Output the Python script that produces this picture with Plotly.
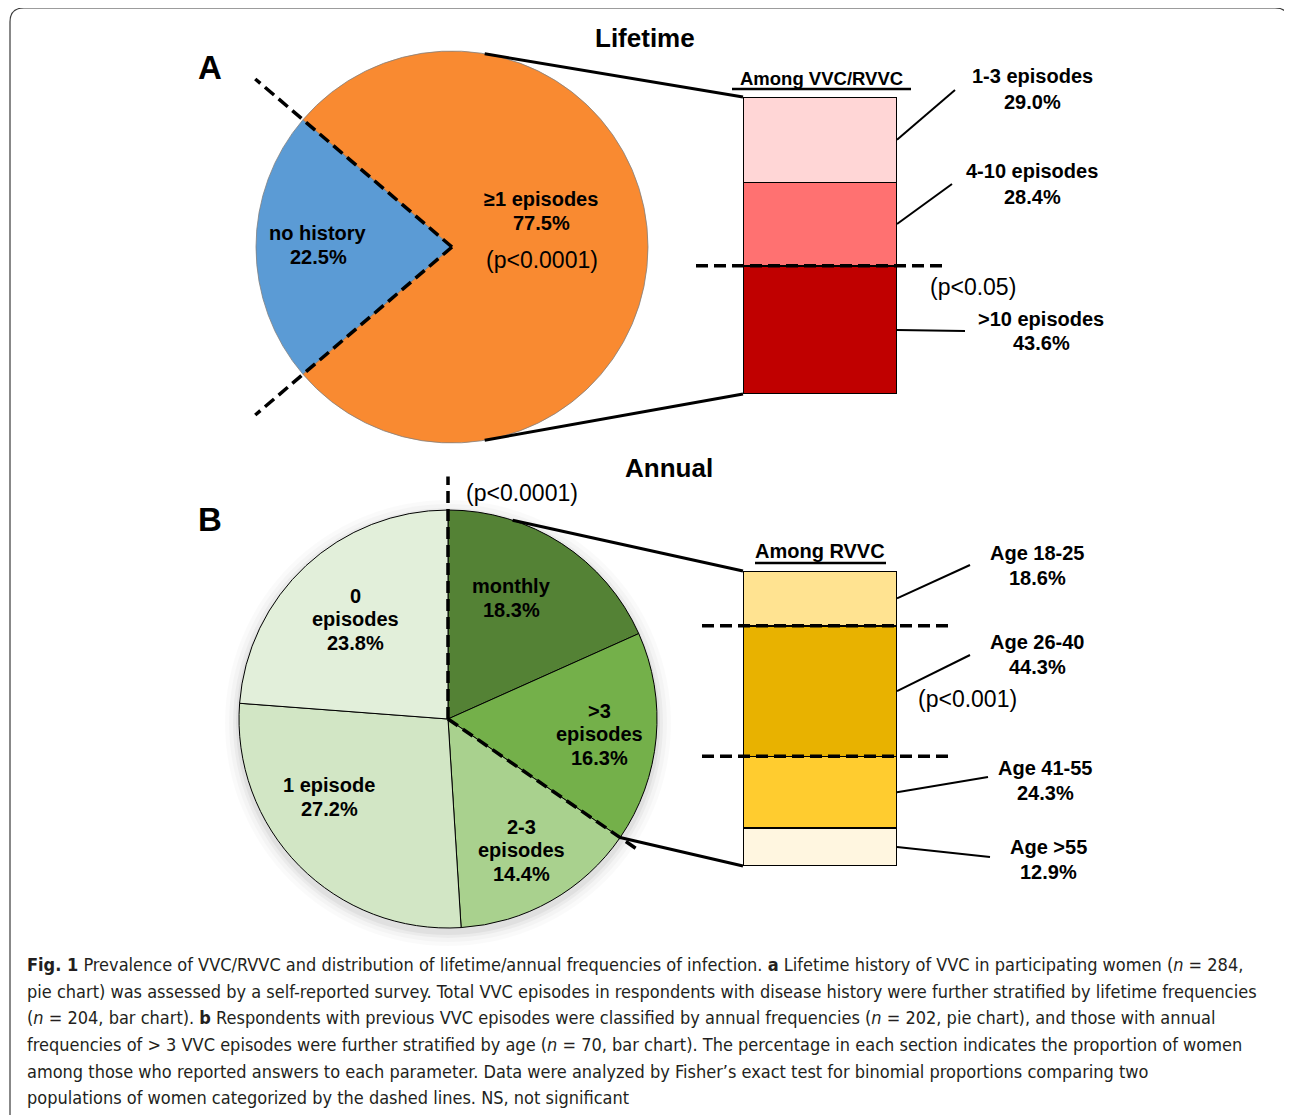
import math
import plotly.graph_objects as go

# browser body margin offsets the figure by 8px
OFF = 8
W, H = 1284, 1107

# ---------------- data ----------------
lifetime_labels = ["no history", "≥1 episodes"]
lifetime_values = [22.5, 77.5]
lifetime_colors = ["#5B9BD5", "#F98A31"]

lifetime_freq_labels = ["1-3 episodes", "4-10 episodes", ">10 episodes"]
lifetime_freq_values = [29.0, 28.4, 43.6]
lifetime_freq_colors = ["#FFD6D6", "#FF7171", "#C00000"]

annual_labels = ["monthly", ">3 episodes", "2-3 episodes", "1 episode", "0 episodes"]
annual_values = [18.3, 16.3, 14.4, 27.2, 23.8]
annual_colors = ["#548235", "#74B04A", "#A9D18E", "#D2E6C5", "#E2EFDA"]

age_labels = ["Age 18-25", "Age 26-40", "Age 41-55", "Age >55"]
age_values = [18.6, 44.3, 24.3, 12.9]
age_colors = ["#FFE391", "#E8B200", "#FFCC2F", "#FFF6E0"]

p_values = ["(p<0.0001)", "(p<0.05)", "(p<0.0001)", "(p<0.001)"]

caption_lines = [
    "<b>Fig. 1</b> Prevalence of VVC/RVVC and distribution of lifetime/annual frequencies of infection. <b>a</b> Lifetime history of VVC in participating women (<i>n</i> = 284,",
    "pie chart) was assessed by a self-reported survey. Total VVC episodes in respondents with disease history were further stratified by lifetime frequencies",
    "(<i>n</i> = 204, bar chart). <b>b</b> Respondents with previous VVC episodes were classified by annual frequencies (<i>n</i> = 202, pie chart), and those with annual",
    "frequencies of > 3 VVC episodes were further stratified by age (<i>n</i> = 70, bar chart). The percentage in each section indicates the proportion of women",
    "among those who reported answers to each parameter. Data were analyzed by Fisher’s exact test for binomial proportions comparing two",
    "populations of women categorized by the dashed lines. NS, not significant",
]

# ---------------- layout geometry (pixels in the screenshot) ----------------
def px(x):
    return (x - OFF) / W


def py(y):
    return 1 - (y - OFF) / H


CA, RA = (452, 247), 196          # pie A centre / radius
CB, RB = (448, 719), 209          # pie B centre / radius
BAR_X0, BAR_X1 = 743, 897
BAR_A = (97, 394)
BAR_B = (571, 866)

rotA = 270 - 360 * lifetime_values[0] / sum(lifetime_values) / 2


def pie_pt(c, r, ang, k=1.0):
    a = math.radians(ang)
    return c[0] + k * r * math.sin(a), c[1] - k * r * math.cos(a)


def bar_y(v, total, span):
    return span[0] + v / total * (span[1] - span[0])


fig = go.Figure()

# ---------------- pies ----------------
fig.add_trace(go.Pie(
    values=lifetime_values, labels=lifetime_labels, sort=False, direction="clockwise",
    rotation=rotA - 360, marker=dict(colors=lifetime_colors, line=dict(color="#808080", width=0.8)),
    textinfo="none", textposition="none", hoverinfo="label+percent",
    domain=dict(x=[px(CA[0] - RA), px(CA[0] + RA)], y=[py(CA[1] + RA), py(CA[1] - RA)]),
))
fig.add_trace(go.Pie(
    values=annual_values, labels=annual_labels, sort=False, direction="clockwise",
    rotation=0, marker=dict(colors=annual_colors, line=dict(color="black", width=1)),
    textinfo="none", textposition="none", hoverinfo="label+percent",
    domain=dict(x=[px(CB[0] - RB), px(CB[0] + RB)], y=[py(CB[1] + RB), py(CB[1] - RB)]),
))

# ---------------- stacked bars ----------------
for lab, v, c in zip(lifetime_freq_labels, lifetime_freq_values, lifetime_freq_colors):
    fig.add_trace(go.Bar(x=[0], y=[v], name=lab, marker=dict(color=c, line=dict(color="black", width=1.5)),
                         width=1, xaxis="x", yaxis="y", hoverinfo="name+y"))
for lab, v, c in zip(age_labels, age_values, age_colors):
    fig.add_trace(go.Bar(x=[0], y=[v], name=lab, marker=dict(color=c, line=dict(color="black", width=1.5)),
                         width=1, xaxis="x2", yaxis="y2", hoverinfo="name+y"))

totA = sum(lifetime_freq_values)
totB = sum(age_values)

shapes = []
annotations = []


def line(p0, p1, width=3, dash=None, color="black"):
    d = dict(type="line", xref="paper", yref="paper", x0=px(p0[0]), y0=py(p0[1]),
             x1=px(p1[0]), y1=py(p1[1]), line=dict(color=color, width=width))
    if dash:
        d["line"]["dash"] = dash
    shapes.append(d)


def text_lines(x, y, lines, size, bold=True, spacing=None, anchor="center", family="Liberation Sans, Arial, sans-serif"):
    spacing = spacing or size * 1.2
    n = len(lines)
    for i, t in enumerate(lines):
        yy = y + (i - (n - 1) / 2) * spacing
        annotations.append(dict(
            x=px(x), y=py(yy), xref="paper", yref="paper", showarrow=False,
            text=(f"<b>{t}</b>" if bold else t), xanchor=anchor, yanchor="middle",
            font=dict(size=size, color="black", family=family)))


DASH = "12px,6px"

# border (rounded frame)
r0 = 14
border = (f"M {px(10)},{py(1130)} L {px(10)},{py(8 + r0)} Q {px(10)},{py(8)} {px(10 + r0)},{py(8)} "
          f"L {px(1289 - r0)},{py(8)} Q {px(1289)},{py(8)} {px(1289)},{py(8 + r0)} L {px(1289)},{py(1130)}")
shapes.append(dict(type="path", xref="paper", yref="paper", path=border, line=dict(color="#3a3a3a", width=1.2), layer="below"))

# soft shadow behind pie B
for d, a in [(14, 0.02), (10, 0.025), (6, 0.035), (3, 0.045)]:
    shapes.append(dict(type="circle", xref="paper", yref="paper", layer="below",
                       x0=px(CB[0] - RB - d), x1=px(CB[0] + RB + d),
                       y0=py(CB[1] + 4 + RB + d), y1=py(CB[1] + 4 - RB - d),
                       fillcolor=f"rgba(0,0,0,{a})", line=dict(width=0)))

# ---- panel A decorations ----
angA_end = rotA + 360 * lifetime_values[0] / sum(lifetime_values)
for ang in (rotA, angA_end):
    line(CA, pie_pt(CA, RA, ang, 1.32), width=3.5, dash=DASH)

line(pie_pt(CA, RA, 9.6), (BAR_X0, BAR_A[0]), width=3)
line(pie_pt(CA, RA, 170.4), (BAR_X0, BAR_A[1]), width=3)

cumA = lifetime_freq_values[0] + lifetime_freq_values[1]
yd = bar_y(cumA, totA, BAR_A)
line((696, yd), (942, yd), width=3.5, dash=DASH)

lab_posA = [(1032, 89, (955, 90)), (1032, 184, (952, 184)), (1041, 331, (965, 331))]
cum = 0
for lab, v, (lx, ly, end) in zip(lifetime_freq_labels, lifetime_freq_values, lab_posA):
    mid = bar_y(cum + v / 2, totA, BAR_A)
    cum += v
    line((BAR_X1, mid), end, width=2)
    text_lines(lx, ly, [lab, f"{v:.1f}%"], 20, spacing=25)

pie_lab_A = [(318, 245), (541, 211)]
for lab, v, (lx, ly) in zip(lifetime_labels, lifetime_values, pie_lab_A):
    text_lines(lx, ly, [lab, f"{v:.1f}%"], 20, spacing=24)

text_lines(542, 260, [p_values[0]], 23, bold=False)
text_lines(973, 287, [p_values[1]], 23, bold=False)
text_lines(645, 38, ["Lifetime"], 26)
text_lines(210, 68, ["A"], 33)
text_lines(821, 78, ["Among VVC/RVVC"], 18.5)
line((732, 89), (911, 89), width=2.5)

# ---- panel B decorations ----
angB_end = 360 * (annual_values[0] + annual_values[1]) / sum(annual_values)
line(CB, pie_pt(CB, RB, 0, 1.16), width=3.5, dash=DASH)
line(CB, pie_pt(CB, RB, angB_end, 1.09), width=3.5, dash=DASH)

line(pie_pt(CB, RB, 18), (BAR_X0, BAR_B[0]), width=3)
line(pie_pt(CB, RB, angB_end), (BAR_X0, BAR_B[1]), width=3)

cum = 0
for v in age_values[:2]:
    cum += v
    yd = bar_y(cum, totB, BAR_B)
    line((702, yd), (948, yd), width=3.5, dash=DASH)

lab_posB = [(1037, 565, (970, 565)), (1037, 654, (970, 655)), (1045, 780, (988, 777)), (1048, 859, (990, 857))]
cum = 0
for lab, v, (lx, ly, end) in zip(age_labels, age_values, lab_posB):
    mid = bar_y(cum + v / 2, totB, BAR_B)
    cum += v
    line((BAR_X1, mid), end, width=2)
    text_lines(lx, ly, [lab, f"{v:.1f}%"], 20, spacing=25)

pie_lab_B = [(511, 598, False), (599, 734, True), (521, 850, True), (329, 797, False), (355, 619, True)]
for lab, v, (lx, ly, wrap) in zip(annual_labels, annual_values, pie_lab_B):
    parts = lab.split(" ", 1) if wrap else [lab]
    text_lines(lx, ly, parts + [f"{v:.1f}%"], 20, spacing=23.5)

text_lines(522, 493, [p_values[2]], 23, bold=False)
text_lines(967, 699, [p_values[3]], 23, bold=False)
text_lines(669, 468, ["Annual"], 26)
text_lines(210, 520, ["B"], 33)
text_lines(820, 551, ["Among RVVC"], 20)
line((755, 563), (886, 563), width=2.5)

# ---- caption ----
cap_y = [964, 991, 1017, 1044, 1071, 1097]
for t, y in zip(caption_lines, cap_y):
    annotations.append(dict(
        x=px(25), y=py(y), xref="paper", yref="paper", showarrow=False, text=t,
        xanchor="left", yanchor="middle",
        font=dict(size=18.0, color="#231f20",
                  family="Liberation Sans Narrow, Arial Narrow, DejaVu Sans Condensed, Liberation Sans, sans-serif")))

hidden = dict(visible=False, fixedrange=True)
fig.update_layout(
    width=W, height=H, margin=dict(l=0, r=0, t=0, b=0),
    paper_bgcolor="white", plot_bgcolor="rgba(0,0,0,0)", showlegend=False,
    barmode="stack",
    xaxis=dict(domain=[px(BAR_X0), px(BAR_X1)], range=[-0.5, 0.5], **hidden),
    yaxis=dict(domain=[py(BAR_A[1]), py(BAR_A[0])], range=[totA, 0], **hidden),
    xaxis2=dict(domain=[px(BAR_X0), px(BAR_X1)], range=[-0.5, 0.5], anchor="y2", **hidden),
    yaxis2=dict(domain=[py(BAR_B[1]), py(BAR_B[0])], range=[totB, 0], anchor="x2", **hidden),
    shapes=shapes, annotations=annotations,
)

fig.write_html("out.html")
